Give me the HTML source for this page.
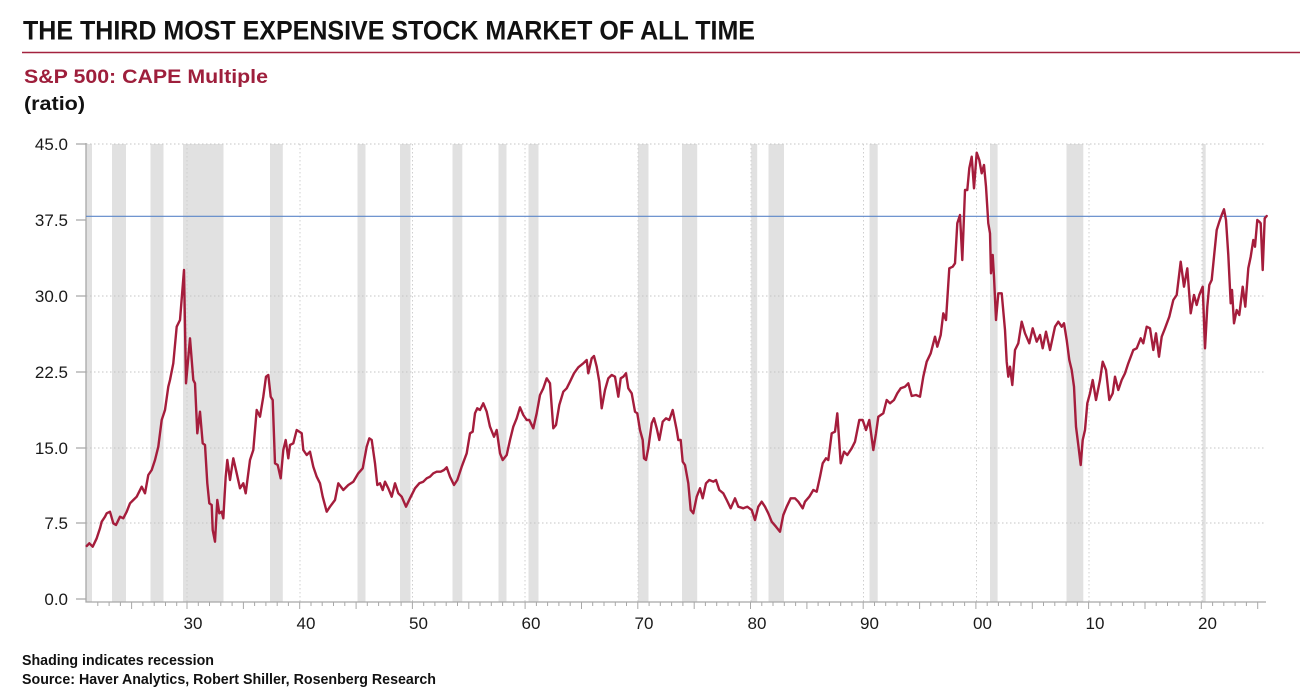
<!DOCTYPE html>
<html>
<head>
<meta charset="utf-8">
<style>
html,body{margin:0;padding:0;background:#fff;}
svg{display:block;}
text{font-family:"Liberation Sans",Arial,sans-serif;}
</style>
</head>
<body>
<svg width="1300" height="689" viewBox="0 0 1300 689" xmlns="http://www.w3.org/2000/svg">
<rect width="1300" height="689" fill="#fff"/>
<text x="23" y="39.5" font-size="27" font-weight="bold" fill="#111" textLength="732" lengthAdjust="spacingAndGlyphs">THE THIRD MOST EXPENSIVE STOCK MARKET OF ALL TIME</text>
<line x1="22" y1="52.5" x2="1300" y2="52.5" stroke="#a3223f" stroke-width="1.6"/>
<text x="24" y="83" font-size="19" font-weight="bold" fill="#9e1f3c" textLength="244" lengthAdjust="spacingAndGlyphs">S&amp;P 500: CAPE Multiple</text>
<text x="24" y="110" font-size="19" font-weight="bold" fill="#111" textLength="61" lengthAdjust="spacingAndGlyphs">(ratio)</text>
<g fill="#e1e1e1">
<rect x="86" y="144" width="6" height="458"/>
<rect x="112" y="144" width="14" height="458"/>
<rect x="150.5" y="144" width="13" height="458"/>
<rect x="183" y="144" width="40.5" height="458"/>
<rect x="270" y="144" width="12.8" height="458"/>
<rect x="357.5" y="144" width="8" height="458"/>
<rect x="400" y="144" width="10.5" height="458"/>
<rect x="452.5" y="144" width="9.8" height="458"/>
<rect x="498.5" y="144" width="8" height="458"/>
<rect x="528.5" y="144" width="10" height="458"/>
<rect x="638" y="144" width="10.5" height="458"/>
<rect x="682" y="144" width="15.2" height="458"/>
<rect x="751.2" y="144" width="6" height="458"/>
<rect x="768.5" y="144" width="15.5" height="458"/>
<rect x="869.5" y="144" width="8.2" height="458"/>
<rect x="990" y="144" width="7.6" height="458"/>
<rect x="1066.5" y="144" width="16.8" height="458"/>
<rect x="1202.5" y="144" width="3.2" height="458"/>
</g>
<path d="M86 144H1266M86 296H1266M86 372H1266M86 448H1266M86 523H1266" stroke="#c4c4c4" stroke-width="1" stroke-dasharray="1.5 2.5" fill="none"/>
<path d="M187 144V602M300 144V602M412.5 144V602M525 144V602M638 144V602M751 144V602M863.5 144V602M976.5 144V602M1089 144V602M1202 144V602" stroke="#cfcfcf" stroke-width="1" stroke-dasharray="1.5 2.5" fill="none"/>
<path d="M86 143V602H1266" stroke="#a8a8a8" stroke-width="1.3" fill="none"/>
<path d="M76 144H86M76 220H86M76 296H86M76 372H86M76 448H86M76 523H86M76 599H86" stroke="#a8a8a8" stroke-width="1.2" fill="none"/>
<path stroke="#a8a8a8" stroke-width="1" fill="none" d="M97.8 602v4M109.1 602v4M120.4 602v4M131.6 602v7M142.9 602v4M154.2 602v4M165.5 602v4M176.7 602v4M187 602v7M198.3 602v4M209.5 602v4M220.8 602v4M232.1 602v4M243.4 602v7M254.6 602v4M265.9 602v4M277.2 602v4M288.4 602v4M299.7 602v7M311 602v4M322.2 602v4M333.5 602v4M344.8 602v4M356.1 602v7M367.3 602v4M378.6 602v4M389.9 602v4M401.1 602v4M412.4 602v7M423.7 602v4M434.9 602v4M446.2 602v4M457.5 602v4M468.8 602v7M480 602v4M491.3 602v4M502.6 602v4M513.8 602v4M525.1 602v7M536.4 602v4M547.6 602v4M558.9 602v4M570.2 602v4M581.5 602v7M592.7 602v4M604 602v4M615.3 602v4M626.5 602v4M637.8 602v7M649.1 602v4M660.3 602v4M671.6 602v4M682.9 602v4M694.2 602v7M705.4 602v4M716.7 602v4M728 602v4M739.2 602v4M750.5 602v7M761.8 602v4M773 602v4M784.3 602v4M795.6 602v4M806.9 602v7M818.1 602v4M829.4 602v4M840.7 602v4M851.9 602v4M863.2 602v7M874.5 602v4M885.7 602v4M897 602v4M908.3 602v4M919.6 602v7M930.8 602v4M942.1 602v4M953.4 602v4M964.6 602v4M975.9 602v7M987.2 602v4M998.4 602v4M1009.7 602v4M1021 602v4M1032.3 602v7M1043.5 602v4M1054.8 602v4M1066.1 602v4M1077.3 602v4M1088.6 602v7M1099.9 602v4M1111.1 602v4M1122.4 602v4M1133.7 602v4M1145 602v7M1156.2 602v4M1167.5 602v4M1178.8 602v4M1190 602v4M1201.3 602v7M1212.6 602v4M1223.8 602v4M1235.1 602v4M1246.4 602v4M1257.7 602v7"/>
<g font-size="17" fill="#1a1a1a" text-anchor="end">
<text x="68" y="150">45.0</text>
<text x="68" y="226">37.5</text>
<text x="68" y="302">30.0</text>
<text x="68" y="378">22.5</text>
<text x="68" y="454">15.0</text>
<text x="68" y="529">7.5</text>
<text x="68" y="605">0.0</text>
</g>
<g font-size="17" fill="#1a1a1a" text-anchor="middle">
<text x="193" y="629">30</text>
<text x="306" y="629">40</text>
<text x="418.5" y="629">50</text>
<text x="531" y="629">60</text>
<text x="644" y="629">70</text>
<text x="757" y="629">80</text>
<text x="869.5" y="629">90</text>
<text x="982.5" y="629">00</text>
<text x="1095" y="629">10</text>
<text x="1207.5" y="629">20</text>
</g>
<line x1="86" y1="216.3" x2="1267" y2="216.3" stroke="#5b86c8" stroke-width="1.1"/>
<polyline fill="none" stroke="#a51d3c" stroke-width="2.4" stroke-linejoin="round" stroke-linecap="round" points="86.7,546 89.3,543.3 92.7,546.7 96.7,538.3 100,528.3 101.7,521.7 105,516.7 106.7,513.3 110,511.7 113.3,523.3 116,525 120,516.7 123.3,518.3 126.7,511.7 130,503.3 133.3,500 136.7,496.7 141.7,486.7 145,493.3 148.3,475 151.7,470 155,460 158.3,446.7 161.7,420 165,410 168.3,386.7 170,380 173.3,363.3 176.7,326.7 180,320 184,270 186,383.3 190,338.3 193.3,380 195,383.3 197.3,433.3 200,411.7 202.7,443.3 205,445 207.3,483.3 209.3,503.3 211.7,505 212.7,530 215,541.7 217.3,500 219.3,513.3 221.7,511.7 223.3,518.3 225.7,476.7 227.3,460 230,480 233.3,458.3 236.7,473.3 240,488.3 243.3,483.3 245.7,493.3 250,460 253.3,450 256.7,410 260,416.7 263.3,396.7 266,376.7 268.3,375 270.7,396.7 272.7,400 275,463.3 277.7,465 280.7,478.3 283.3,450 285.7,440 288.3,458.3 290,445 293.3,443.3 296.7,430 301.7,433.3 303.3,450 306.7,455 310,451.7 313.3,466.7 316.7,476.7 320,483.3 322.7,496.7 326.7,511.7 330,506.7 335,500 338.3,483.3 343.3,490 348.3,485 353.3,481.7 358.3,473.3 362.7,468.3 366.7,446.7 369.3,438.3 371.7,440 375,463.3 377.3,485 380,483.3 382.7,490 385,481.7 388.3,488.3 391.7,496.7 395,483.3 398.3,493.3 401.7,496.7 406,506.7 410,498.3 415,488.3 419.3,483.3 423.3,481.7 426.7,478.3 430,476.7 433.3,473.3 436.7,471.7 440.7,471.7 444,470 446.7,467.3 450,476.7 454,485 457.3,480 461.7,466.7 466.7,453.3 470,433.3 472.7,431.7 475,413.3 477.3,408.3 480,410 483.3,403.3 486.7,411.7 490,426.7 494,436.7 496.7,430 500,453.3 502.7,460 506.7,455 510,440 513.3,426.7 516.7,418.3 520,407.3 523.3,415 526.7,420 529.3,420 533.3,428.3 536.7,413.3 540,395 543.3,388.3 546.7,378.3 550,383.3 553.3,428.3 556,425 559.3,405 563.3,391.7 566.7,388.3 570,381.7 574,373.3 578.3,367.3 583.3,363.3 586.7,360 588.3,373.3 591.7,358.3 594,356 596.7,366.7 599.3,381.7 601.7,408.3 605,390 608.3,378.3 611.7,375 615,376.7 618.3,396.7 620.7,378.3 623.3,376.7 626,373.3 628.3,388.3 631.7,393.3 635,411.7 637.3,413.3 640,430 642.7,440 644,458.3 646,460 648.3,448.3 651.7,423.3 654,418.3 656.7,428.3 659.3,440 662.7,421.7 666,418.3 669.3,420 672.7,410 676.7,430 678.3,440 680.7,440 682.7,461.7 685,465 688.3,483.3 690.7,510 693.3,513.3 696.7,496.7 700,488.3 702.7,498.3 706,483.3 709.3,480 713.3,481.7 716,480 719.3,490 723.3,493.3 726.7,500 730.7,508.3 735,498.3 738.3,506.7 743.3,508.3 747.3,506.7 751.7,510 755,520 758.3,506.7 761.7,501.7 765,506.7 768.3,513.3 771.7,521.7 776,526.7 780,531.7 783.3,515 786.7,506.7 790.7,498.3 795,498.3 798.3,501.7 802.7,508.3 805,501.7 809.3,496.7 813.3,490 816.7,491.7 820,476.7 822.7,463.3 826,458.3 828.3,460 831.7,433.3 835,431.7 837.3,413.3 840.7,463.3 844,451.7 847.3,455 851.7,448.3 855,441.7 859.3,420 862.7,420 866,430 869.3,420 873.3,450 876,433.3 878.3,416.7 883.3,413.3 886.7,400 890,403.3 894,400 897.3,393.3 900.7,388.3 905,386.7 908.3,383.3 911.7,396 916,395 920,396.7 923.3,376.7 926.7,361.7 930.7,353.3 935,336.7 937.3,346.7 940.7,335 943.3,313.3 946,320 949.3,268.3 952.7,266.7 955,263.3 957.3,223.3 960,215 962.3,260 965,190 967.3,190 969.3,168.3 971.7,156.7 974,188.3 976.7,152.7 979.3,160 981.7,173.3 984,165 986,186.7 988.3,223.3 990,233.3 991,273.3 992.7,255 994,276.7 996,320 998.3,293.3 1001.7,293.3 1005,330 1006.7,361.7 1008.3,376.7 1010,366.7 1012.3,385 1015,350 1018.3,343.3 1021.7,321.7 1025,333.3 1029.3,343.3 1032.7,328.3 1036.7,341.7 1040,335 1042.7,348.3 1046,331.7 1050,350 1055,326.7 1058.3,321.7 1061.7,326.7 1064,323.3 1066.7,340 1069.3,360 1071.7,370 1074,386.7 1076,426.7 1078.3,445 1080.7,465 1082.7,440 1085,430 1087.3,403.3 1090,393.3 1092.7,380 1096,400 1100,380 1102.7,361.7 1106,370 1109.3,400 1112.7,393.3 1115,376.7 1118.3,390 1121.7,380 1125,373.3 1128.3,363.3 1133.3,350 1136.7,348.3 1140.7,338.3 1143.3,343.3 1146.7,326.7 1150,328.3 1153.3,350 1156,333.3 1159,356.7 1161.7,336.7 1165,328.3 1169.3,316.7 1173.3,300 1176.7,295 1180.7,261.7 1184,286.7 1187.3,268.3 1190.7,313.3 1194,295 1196.7,305 1199.3,295 1202.7,286.7 1205,348.3 1207.3,306.7 1209.3,285 1211.7,280 1214,256.7 1216.7,230 1219.3,221.7 1221.7,215 1224,209.3 1226,220 1228.3,255 1230.7,303.3 1232,290 1234,323.3 1236.7,310 1239.3,315 1242.7,286.7 1245.3,306.7 1248.3,268.3 1250.7,256.7 1253.3,240 1255,246.7 1257.3,220 1259.3,221.7 1260.7,223.3 1262.7,270 1264.7,218.3 1266.7,216"/>
<text x="22" y="665" font-size="14.5" font-weight="bold" fill="#111" textLength="192" lengthAdjust="spacingAndGlyphs">Shading indicates recession</text>
<text x="22" y="684" font-size="14.5" font-weight="bold" fill="#111" textLength="414" lengthAdjust="spacingAndGlyphs">Source: Haver Analytics, Robert Shiller, Rosenberg Research</text>
</svg>
</body>
</html>
